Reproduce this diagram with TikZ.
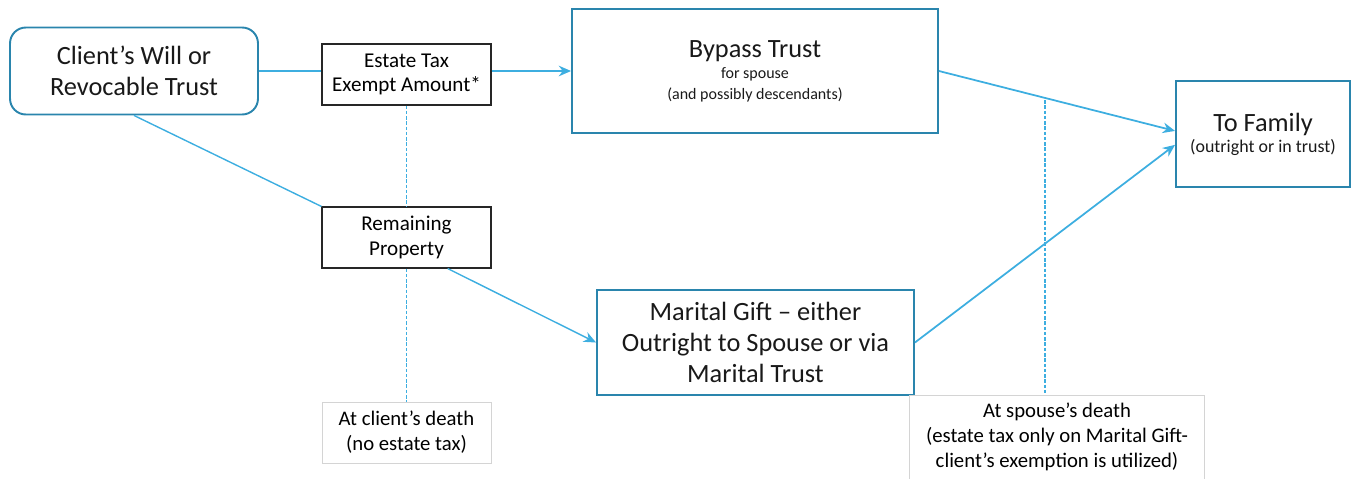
\documentclass[tikz,border=0pt]{standalone}
\usepackage{fontspec}
\setmainfont{Carlito}
\usetikzlibrary{positioning, arrows.meta}

\definecolor{boxblue}{HTML}{2A85AD}
\definecolor{linkblue}{HTML}{3DAEE0}
\definecolor{notegray}{HTML}{D4D4D4}

\newcommand{\bigtext}{\fontsize{15}{17.4}\selectfont}
\newcommand{\midtext}{\fontsize{12}{13.8}\selectfont}
\newcommand{\notetext}{\fontsize{11.8}{14.3}\selectfont}
\newcommand{\smalltext}{\fontsize{9.1}{12.5}\selectfont}

\tikzset{
    trustbox/.style={rectangle, draw=boxblue, line width=1.1pt, align=center, text=black!90},
    sharebox/.style={rectangle, draw=black!85, line width=0.6pt, align=center, minimum width=3.38cm, minimum height=1.22cm, font=\midtext},
    notebox/.style={rectangle, align=center, font=\notetext},
    link/.style={draw=linkblue, line width=0.8pt},
    flow/.style={link, -{Stealth[length=7pt, width=6pt]}},
    deathline/.style={draw=linkblue, line width=0.6pt, dash pattern=on 2pt off 1pt}
}

\begin{document}
\begin{tikzpicture}[x=0.02cm, y=-0.02cm]
    \useasboundingbox (0,0) rectangle (1354,478);

    % Main boxes
    \node[trustbox, rounded corners=9pt, minimum width=4.96cm, minimum height=1.74cm, font=\bigtext] (client) at (134,71) {Client’s Will or\\Revocable Trust};
    \node[trustbox, minimum width=7.32cm, minimum height=2.48cm] (bypass) at (755,71) {{\bigtext Bypass Trust}\\{\smalltext for spouse}\\{\smalltext (and possibly descendants)}};
    \node[trustbox, minimum width=6.34cm, minimum height=2.1cm, font=\fontsize{15}{17.7}\selectfont] (marital) at (755.5,342.5) {Marital Gift – either\\Outright to Spouse or via\\Marital Trust};
    \node[trustbox, minimum width=3.48cm, minimum height=2.12cm] (family) at (1263,134) {{\bigtext To Family}\\{\fontsize{10.2}{12.5}\selectfont (outright or in trust)}};

    % Split boxes
    \node[sharebox] (exempt) at (406.5,74.5) {Estate Tax\\Exempt Amount*};
    \node[sharebox] (remain) at (406.5,237.5) {Remaining\\Property};

    % Timing notes
    \node[notebox, draw=notegray, line width=0.5pt, minimum width=3.38cm, minimum height=1.22cm] (clientdeath) at (406.5,432.5) {At client’s death\\(no estate tax)};
    \node[notebox, minimum width=5.88cm, minimum height=1.66cm, anchor=north] (spousedeath) at (1057,395) {At spouse’s death\\(estate tax only on Marital Gift-\\client’s exemption is utilized)};
    \draw[draw=notegray, line width=0.5pt] (spousedeath.south west) |- (spousedeath.north east) -- (spousedeath.south east);

    % Connections
    \draw[link, line width=1.1pt] (client.east) -- (client.east -| exempt.west);
    \draw[flow, line width=1.1pt] (exempt.east |- bypass.west) -- (bypass.west);
    \draw[link] (client.south) -- (remain.north west);
    \draw[flow] (remain.-37) -- (marital.west);
    \draw[flow, line width=1pt] (bypass.east) -- (family.178);
    \draw[flow, line width=1pt] (marital.east) -- (family.-173);

    % Death lines
    \coordinate (split) at (1045,100);
    \draw[deathline] (exempt.south) -- (remain.north);
    \draw[deathline] (remain.south) -- (clientdeath.north);
    \draw[deathline] (split) -- (split |- spousedeath.north);
\end{tikzpicture}
\end{document}
